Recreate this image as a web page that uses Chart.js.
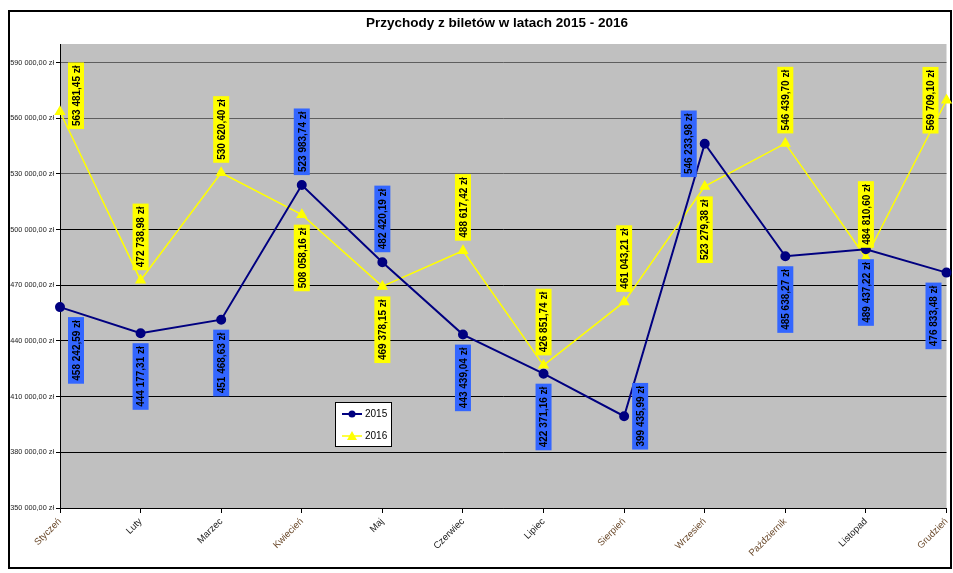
<!DOCTYPE html>
<html>
<head>
<meta charset="utf-8">
<script src="https://cdn.jsdelivr.net/npm/chart.js@4"></script>
<style>body{margin:0;background:#fff}</style>
</head>
<body>
<canvas id="c" width="953" height="573"></canvas>
<script>
const chartTitle = "Przychody z biletów w latach 2015 - 2016";
const months = ["Styczeń", "Luty", "Marzec", "Kwiecień", "Maj", "Czerwiec", "Lipiec", "Sierpień", "Wrzesień", "Październik", "Listopad", "Grudzień"];
const sales2015 = [458242.59, 444177.31, 451468.63, 523983.74, 482420.19, 443439.04, 422371.16, 399435.99, 546233.98, 485638.27, 489437.22, 476833.48];
const sales2016 = [563481.45, 472738.98, 530620.40, 508058.16, 469378.15, 488617.42, 426851.74, 461043.21, 523279.38, 546439.70, 484810.60, 569709.10];
const yTicks = [350000, 380000, 410000, 440000, 470000, 500000, 530000, 560000, 590000];

// where each value label sits relative to its point: a=above, b=below, r=right, l=left
const labelPos2015 = ["b", "b", "b", "a", "a", "b", "b", "r", "l", "b", "b", "b"];
const labelPos2016 = ["r", "a", "a", "b", "b", "a", "a", "a", "b", "a", "a", "l"];
const brownMonths = [0, 3, 7, 8, 9, 11];

function zl(v) {
  const parts = v.toFixed(2).split(".");
  return parts[0].replace(/\B(?=(\d{3})+(?!\d))/g, " ") + "," + parts[1] + " zł";
}

const deco = {
  id: "deco",
  beforeDraw(chart) {
    const { ctx, chartArea: a } = chart;
    ctx.save();
    ctx.fillStyle = "#fff";
    ctx.fillRect(0, 0, chart.width, chart.height);
    ctx.fillStyle = "#c0c0c0";
    ctx.fillRect(a.left, a.top, a.right - a.left, a.bottom - a.top);
    ctx.strokeStyle = "#000";
    ctx.lineWidth = 2;
    ctx.strokeRect(9, 11, 942, 557);
    ctx.fillStyle = "#000";
    ctx.font = "bold 13.5px Arial";
    ctx.textAlign = "center";
    ctx.textBaseline = "middle";
    ctx.fillText(chartTitle, 497, 23);
    ctx.restore();
  },
  afterDatasetsDraw(chart) {
    const { ctx, chartArea: a } = chart;
    const sets = [
      { pos: labelPos2015, bg: "#3366ff" },
      { pos: labelPos2016, bg: "#ffff00" }
    ];
    ctx.save();
    ctx.font = "bold 10px Arial";
    ctx.textAlign = "center";
    ctx.textBaseline = "middle";
    sets.forEach((s, i) => {
      const meta = chart.getDatasetMeta(i);
      const values = chart.data.datasets[i].data;
      meta.data.forEach((pt, j) => {
        const txt = zl(values[j]);
        const w = 16;
        const h = ctx.measureText(txt).width + 6;
        let cx = pt.x, cy = pt.y;
        const p = s.pos[j];
        if (p === "a") cy = pt.y - 10 - h / 2;
        if (p === "b") cy = pt.y + 10 + h / 2;
        if (p === "r") { cx = pt.x + 8 + w / 2; cy = pt.y - 16; }
        if (p === "l") cx = pt.x - 8 - w / 2;
        if (i === 0 && p === "r") cy = pt.y;
        cx = Math.max(a.left + 8 + w / 2, Math.min(a.right - 5 - w / 2, cx));
        ctx.fillStyle = s.bg;
        ctx.fillRect(cx - w / 2, cy - h / 2, w, h);
        ctx.save();
        ctx.translate(cx, cy);
        ctx.rotate(-Math.PI / 2);
        ctx.fillStyle = "#000";
        ctx.fillText(txt, 0, 1);
        ctx.restore();
      });
    });
    ctx.restore();
  },
  afterDraw(chart) {
    const ctx = chart.ctx;
    ctx.save();
    ctx.fillStyle = "#fff";
    ctx.fillRect(335, 402, 57, 45);
    ctx.strokeStyle = "#000";
    ctx.lineWidth = 1;
    ctx.strokeRect(335.5, 402.5, 56, 44);
    ctx.font = "10px Arial";
    ctx.textBaseline = "middle";
    // 2015
    ctx.strokeStyle = "#000080";
    ctx.lineWidth = 2;
    ctx.beginPath(); ctx.moveTo(342, 414); ctx.lineTo(362, 414); ctx.stroke();
    ctx.fillStyle = "#000080";
    ctx.beginPath(); ctx.arc(352, 414, 3.5, 0, Math.PI * 2); ctx.fill();
    ctx.fillStyle = "#000";
    ctx.fillText("2015", 365, 414);
    // 2016
    ctx.strokeStyle = "#ffff00";
    ctx.lineWidth = 1.5;
    ctx.beginPath(); ctx.moveTo(342, 436); ctx.lineTo(362, 436); ctx.stroke();
    ctx.fillStyle = "#ffff00";
    ctx.beginPath(); ctx.moveTo(352, 431); ctx.lineTo(357, 440); ctx.lineTo(347, 440); ctx.closePath(); ctx.fill();
    ctx.fillStyle = "#000";
    ctx.fillText("2016", 365, 436);
    ctx.restore();
  }
};

new Chart(document.getElementById("c"), {
  type: "line",
  data: {
    labels: months,
    datasets: [
      {
        label: "2015",
        data: sales2015,
        borderColor: "#000080",
        backgroundColor: "#000080",
        borderWidth: 2,
        pointStyle: "circle",
        pointRadius: 4,
        pointBackgroundColor: "#000080",
        pointBorderColor: "#000080",
        tension: 0
      },
      {
        label: "2016",
        data: sales2016,
        borderColor: "#ffff00",
        backgroundColor: "#ffff00",
        borderWidth: 1.5,
        pointStyle: "triangle",
        pointRadius: 5,
        pointBackgroundColor: "#ffff00",
        pointBorderColor: "#ffff00",
        tension: 0
      }
    ]
  },
  options: {
    responsive: false,
    animation: false,
    layout: { padding: { left: 8, right: 5, top: 44, bottom: 0 } },
    plugins: {
      legend: { display: false },
      title: { display: false },
      tooltip: { enabled: false }
    },
    scales: {
      x: {
        offset: false,
        grid: { drawOnChartArea: false, drawTicks: true, tickLength: 5, tickColor: "#000" },
        border: { color: "#000", width: 1 },
        ticks: {
          minRotation: 45,
          maxRotation: 45,
          autoSkip: false,
          font: { family: "Arial", size: 9.5 },
          color: (c) => brownMonths.includes(c.index) ? "#6b4a2c" : "#222"
        },
        afterFit(scale) {
          scale.height = 65;
          scale.paddingLeft = 0;
          scale.paddingRight = 0;
        }
      },
      y: {
        min: 350000,
        max: 600000,
        afterBuildTicks(scale) {
          scale.ticks = yTicks.map(v => ({ value: v }));
        },
        grid: {
          color: (c) => c.tick && c.tick.value >= 530000 ? "#5e5e5e" : "#000",
          lineWidth: 1,
          tickLength: 4,
          tickColor: "#000"
        },
        border: { color: "#000", width: 1 },
        ticks: {
          font: { family: "Arial", size: 7.3 },
          color: "#222",
          padding: 2,
          callback: (v) => zl(v)
        },
        afterFit(scale) {
          scale.width = 52;
        }
      }
    }
  },
  plugins: [deco]
});
</script>
</body>
</html>
